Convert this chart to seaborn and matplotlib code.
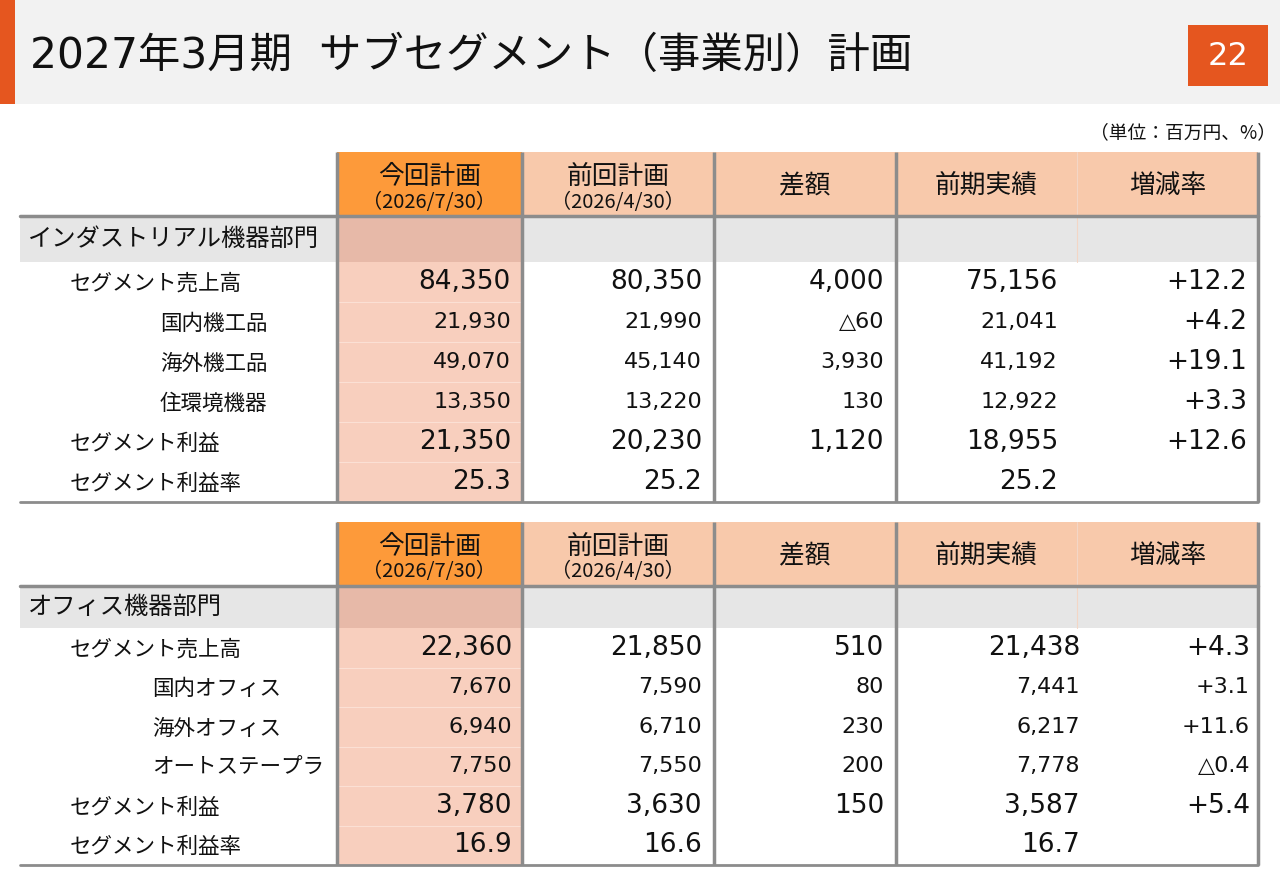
import matplotlib
matplotlib.use("Agg")
import matplotlib.pyplot as plt
from matplotlib.patches import Rectangle
import seaborn as sns

sns.set_theme(style="white")
plt.rcParams['font.family'] = ['Noto Sans CJK JP', 'DejaVu Sans']
NUM_FONT = ['DejaVu Sans', 'Noto Sans CJK JP']

# data
title = "2027年3月期  サブセグメント（事業別）計画"
page_no = "22"
unit_note = "（単位：百万円、%）"
col_heads = ["今回計画", "前回計画", "差額", "前期実績", "増減率"]
col_dates = ["（2026/7/30）", "（2026/4/30）", "", "", ""]

ind_name = "インダストリアル機器部門"
ind_rows = ["セグメント売上高", "国内機工品", "海外機工品", "住環境機器", "セグメント利益", "セグメント利益率"]
ind_now = [84350, 21930, 49070, 13350, 21350, 25.3]
ind_prev = [80350, 21990, 45140, 13220, 20230, 25.2]
ind_diff = [4000, -60, 3930, 130, 1120, None]
ind_last = [75156, 21041, 41192, 12922, 18955, 25.2]
ind_rate = [12.2, 4.2, 19.1, 3.3, 12.6, None]

off_name = "オフィス機器部門"
off_rows = ["セグメント売上高", "国内オフィス", "海外オフィス", "オートステープラ", "セグメント利益", "セグメント利益率"]
off_now = [22360, 7670, 6940, 7750, 3780, 16.9]
off_prev = [21850, 7590, 6710, 7550, 3630, 16.6]
off_diff = [510, 80, 230, 200, 150, None]
off_last = [21438, 7441, 6217, 7778, 3587, 16.7]
off_rate = [4.3, 3.1, 11.6, -0.4, 5.4, None]

main_row = [True, False, False, False, True, True]


def fmt(v, kind):
    if v is None:
        return ""
    if kind == "rate":
        return ("+" if v >= 0 else "△") + f"{abs(v):.1f}"
    if isinstance(v, float):
        return f"{v:.1f}"
    return ("△" if v < 0 else "") + f"{abs(v):,}"


fig = plt.figure(figsize=(12.8, 8.86), dpi=100)
ax = fig.add_axes([0, 0, 1, 1])
ax.set_xlim(0, 1280)
ax.set_ylim(886, 0)
ax.axis("off")

# title bar
ax.add_patch(Rectangle((0, 0), 1280, 104, color="#f2f2f2", lw=0))
ax.add_patch(Rectangle((0, 0), 15, 104, color="#e5561f", lw=0))
ax.text(30, 56, title, fontsize=30.5, va="center", ha="left", color="#111111", family=NUM_FONT)
ax.add_patch(Rectangle((1188, 25), 80, 61, color="#e5561f", lw=0))
ax.text(1228, 56, page_no, fontsize=23, va="center", ha="center", color="white", family=NUM_FONT)
ax.text(1276, 133, unit_note, fontsize=13.5, va="center", ha="right", color="#111111")

edges = [20, 337, 522, 714, 896, 1077, 1258]
grid_c = "#8c8c8c"


def draw_table(top, sec_h, row_h, name, rows, cols, sub_x, right_x, small_cols):
    head_h = 64
    sec_top = top + head_h
    data_top = sec_top + sec_h
    bottom = data_top + row_h * len(rows)

    # header
    for i in range(5):
        x0, x1 = edges[i + 1], edges[i + 2]
        c = "#fd9a3a" if i == 0 else "#f8c9ab"
        ax.add_patch(Rectangle((x0, top), x1 - x0, head_h, color=c, lw=0))
        cx = (x0 + x1) / 2
        if col_dates[i]:
            ax.text(cx, top + 25, col_heads[i], fontsize=18.5, ha="center", va="center", color="#111111")
            ax.text(cx, top + 50, col_dates[i], fontsize=14.5, ha="center", va="center", color="#111111")
        else:
            ax.text(cx, top + 34, col_heads[i], fontsize=18.5, ha="center", va="center", color="#111111")

    # section row
    ax.add_patch(Rectangle((edges[0], sec_top), edges[-1] - edges[0], sec_h, color="#e6e6e6", lw=0))
    ax.add_patch(Rectangle((edges[1], sec_top), edges[2] - edges[1], sec_h, color="#e7b9a8", lw=0))
    ax.text(28, sec_top + sec_h / 2, name, fontsize=17.5, ha="left", va="center", color="#111111")

    # highlighted column body
    ax.add_patch(Rectangle((edges[1], data_top), edges[2] - edges[1], bottom - data_top,
                           color="#f8cfbe", lw=0))
    for r in range(1, len(rows)):
        y = data_top + r * row_h
        ax.plot([edges[1], edges[2]], [y, y], color="#fbe0d4", lw=0.8)

    # rows
    kinds = ["num", "num", "num", "num", "rate"]
    for r, lab in enumerate(rows):
        cy = data_top + (r + 0.5) * row_h
        big = main_row[r]
        lx = 70 if big else sub_x
        ax.text(lx, cy + 2, lab, fontsize=15.5, ha="left", va="center", color="#111111")
        for c in range(5):
            fs = 19 if (big or c not in small_cols) else 16
            ax.text(right_x[c], cy, fmt(cols[c][r], kinds[c]), fontsize=fs,
                    ha="right", va="center", color="#111111", family=NUM_FONT)

    # grid lines
    for x in [337, 522, 714, 896, 1258]:
        ax.plot([x, x], [top, bottom], color=grid_c, lw=2.5, solid_capstyle="butt")
    ax.plot([1077, 1077], [top, sec_top + sec_h], color="#f3d6c6", lw=0.8)
    ax.plot([edges[0], edges[-1]], [sec_top, sec_top], color=grid_c, lw=2.5)
    ax.plot([edges[0], edges[-1]], [bottom, bottom], color=grid_c, lw=2)


draw_table(152, 46, 40, ind_name, ind_rows,
           [ind_now, ind_prev, ind_diff, ind_last, ind_rate],
           160, [511, 702, 884, 1058, 1247], [0, 1, 2, 3])
draw_table(522, 42, 39.5, off_name, off_rows,
           [off_now, off_prev, off_diff, off_last, off_rate],
           152, [512, 702, 884, 1080, 1250], [0, 1, 2, 3, 4])

fig.savefig("out.png", dpi=100)
